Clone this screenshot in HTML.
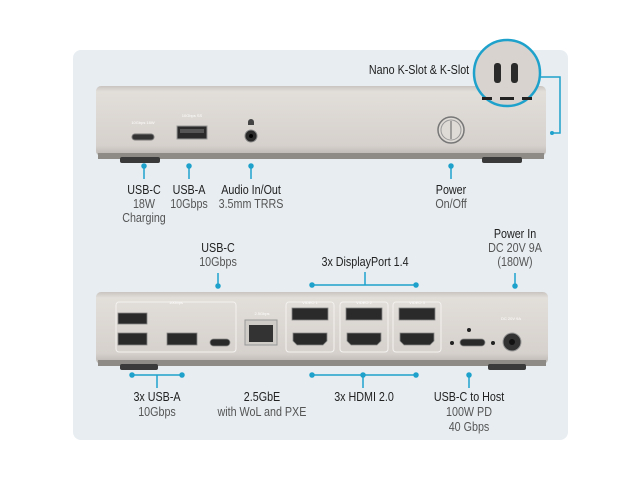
<!DOCTYPE html>
<html><head><meta charset="utf-8"><style>
html,body{margin:0;padding:0;background:#fff;}
svg{display:block;}
text{font-family:"Liberation Sans Narrow","Liberation Sans",sans-serif;}
.n text{transform-box:fill-box;transform-origin:center;transform:scaleX(0.86);}
</style></head><body>
<svg width="640" height="480" viewBox="0 0 640 480" xmlns="http://www.w3.org/2000/svg">
<defs>
<linearGradient id="dock" x1="0" y1="0" x2="0" y2="1">
<stop offset="0" stop-color="#c9c4bf"/><stop offset="0.08" stop-color="#e2ded9"/><stop offset="0.85" stop-color="#d6d1cc"/><stop offset="1" stop-color="#b9b4af"/>
</linearGradient>
</defs>
<rect x="73" y="50" width="495" height="390" rx="8" fill="#e7edf1"/>
<rect x="96" y="86" width="450" height="70" rx="5" fill="url(#dock)"/>
<rect x="98" y="153" width="446" height="6" fill="#8e8a86"/>
<rect x="120" y="157" width="40" height="6" rx="2" fill="#3a3a3a"/>
<rect x="482" y="157" width="40" height="6" rx="2" fill="#3a3a3a"/>
<text x="143" y="124" font-size="4" fill="#fff" text-anchor="middle">10Gbps 18W</text>
<rect x="132" y="134" width="22" height="6" rx="3" fill="#333" stroke="#777" stroke-width="1"/>
<text x="192" y="117" font-size="4" fill="#fff" text-anchor="middle">10Gbps SS</text>
<rect x="177" y="126" width="30" height="13" fill="#2b2b2b" stroke="#999" stroke-width="1"/>
<rect x="180" y="129" width="24" height="4" fill="#555"/>
<circle cx="251" cy="136" r="6" fill="#2a2a2a" stroke="#888"/>
<circle cx="251" cy="136" r="2" fill="#000"/>
<path d="M248 122 a3 3 0 0 1 6 0 v3 h-6z" fill="#444"/>
<circle cx="451" cy="130" r="13" fill="#dedad6" stroke="#777" stroke-width="1.5"/>
<circle cx="451" cy="130" r="10" fill="none" stroke="#999"/>
<line x1="451" y1="121" x2="451" y2="139" stroke="#777" stroke-width="1.2"/>
<circle cx="507" cy="73" r="33" fill="#d8d3ce" stroke="#1ea2cc" stroke-width="2.5"/>
<rect x="494" y="63" width="7" height="20" rx="3" fill="#2a2a2a"/>
<rect x="511" y="63" width="7" height="20" rx="3" fill="#2a2a2a"/>
<rect x="500" y="97" width="14" height="3" fill="#222"/>
<rect x="482" y="97" width="10" height="3" fill="#222"/>
<rect x="522" y="97" width="10" height="3" fill="#222"/>
<polyline points="540,77 560,77 560,133 552,133" fill="none" stroke="#1ea2cc" stroke-width="1.5"/>
<circle cx="552" cy="133" r="2" fill="#1ea2cc"/>
<g class="n"><text x="419" y="74" font-size="12.5" fill="#222" text-anchor="middle">Nano K-Slot &amp; K-Slot</text></g>
<g stroke="#1ea2cc" stroke-width="1.5" fill="#1ea2cc">
<line x1="144" y1="166" x2="144" y2="179"/><circle cx="144" cy="166" r="2"/>
<line x1="189" y1="166" x2="189" y2="179"/><circle cx="189" cy="166" r="2"/>
<line x1="251" y1="166" x2="251" y2="179"/><circle cx="251" cy="166" r="2"/>
<line x1="451" y1="166" x2="451" y2="179"/><circle cx="451" cy="166" r="2"/>
</g>
<g class="n" font-size="12.5" text-anchor="middle">
<text x="144" y="194" fill="#222">USB-C</text>
<text x="144" y="208" fill="#555">18W</text>
<text x="144" y="222" fill="#555">Charging</text>
<text x="189" y="194" fill="#222">USB-A</text>
<text x="189" y="208" fill="#555">10Gbps</text>
<text x="251" y="194" fill="#222">Audio In/Out</text>
<text x="251" y="208" fill="#555">3.5mm TRRS</text>
<text x="451" y="194" fill="#222">Power</text>
<text x="451" y="208" fill="#555">On/Off</text>
<text x="515" y="238" fill="#222">Power In</text>
<text x="515" y="252" fill="#555">DC 20V 9A</text>
<text x="515" y="266" fill="#555">(180W)</text>
<text x="218" y="252" fill="#222">USB-C</text>
<text x="218" y="266" fill="#555">10Gbps</text>
<text x="365" y="266" fill="#222">3x DisplayPort 1.4</text>
</g>
<g stroke="#1ea2cc" stroke-width="1.5" fill="#1ea2cc">
<line x1="218" y1="273" x2="218" y2="286"/><circle cx="218" cy="286" r="2"/>
<line x1="515" y1="273" x2="515" y2="286"/><circle cx="515" cy="286" r="2"/>
<line x1="312" y1="285" x2="416" y2="285"/><line x1="365" y1="272" x2="365" y2="285"/>
<circle cx="312" cy="285" r="2"/><circle cx="416" cy="285" r="2"/>
</g>
<rect x="96" y="292" width="452" height="72" rx="5" fill="url(#dock)"/>
<rect x="98" y="360" width="448" height="6" fill="#8e8a86"/>
<rect x="120" y="364" width="38" height="6" rx="2" fill="#3a3a3a"/>
<rect x="488" y="364" width="38" height="6" rx="2" fill="#3a3a3a"/>
<g fill="none" stroke="#f4f2f0" stroke-width="1">
<rect x="116" y="302" width="120" height="50" rx="3"/>
<rect x="286" y="302" width="48" height="50" rx="3"/>
<rect x="340" y="302" width="48" height="50" rx="3"/>
<rect x="393" y="302" width="48" height="50" rx="3"/>
</g>
<g fill="#2a2a2a" stroke="#888" stroke-width="0.8">
<rect x="118" y="313" width="29" height="11"/>
<rect x="118" y="333" width="29" height="12"/>
<rect x="167" y="333" width="30" height="12"/>
<rect x="210" y="339" width="20" height="7" rx="3.5"/>
<rect x="292" y="308" width="36" height="12"/>
<rect x="346" y="308" width="36" height="12"/>
<rect x="399" y="308" width="36" height="12"/>
<path d="M293 333 h34 v8 l-4 4 h-26 l-4 -4z"/>
<path d="M347 333 h34 v8 l-4 4 h-26 l-4 -4z"/>
<path d="M400 333 h34 v8 l-4 4 h-26 l-4 -4z"/>
<rect x="460" y="339" width="25" height="7" rx="3.5"/>
</g>
<rect x="245" y="320" width="32" height="25" fill="#cfccc8" stroke="#999"/>
<rect x="249" y="325" width="24" height="17" fill="#333"/>
<circle cx="512" cy="342" r="9" fill="#333" stroke="#999"/>
<circle cx="512" cy="342" r="3" fill="#111"/>
<circle cx="452" cy="343" r="2" fill="#222"/><circle cx="493" cy="343" r="2" fill="#222"/>
<circle cx="469" cy="330" r="2" fill="#222"/>
<g font-size="4" fill="#fff" text-anchor="middle">
<text x="176" y="304">10Gbps</text><text x="262" y="315">2.5Gbps</text>
<text x="310" y="304">VIDEO 1</text><text x="364" y="304">VIDEO 2</text><text x="417" y="304">VIDEO 3</text>
<text x="511" y="320">DC 20V 9A</text>
</g>
<g stroke="#1ea2cc" stroke-width="1.5" fill="#1ea2cc">
<line x1="132" y1="375" x2="182" y2="375"/><line x1="157" y1="375" x2="157" y2="388"/>
<circle cx="132" cy="375" r="2"/><circle cx="182" cy="375" r="2"/>
<line x1="312" y1="375" x2="416" y2="375"/><line x1="363" y1="375" x2="363" y2="388"/>
<circle cx="312" cy="375" r="2"/><circle cx="416" cy="375" r="2"/><circle cx="363" cy="375" r="2"/>
<line x1="469" y1="375" x2="469" y2="388"/><circle cx="469" cy="375" r="2"/>
</g>
<g class="n" font-size="12.5" text-anchor="middle">
<text x="157" y="401" fill="#222">3x USB-A</text>
<text x="157" y="416" fill="#555">10Gbps</text>
<text x="262" y="401" fill="#222">2.5GbE</text>
<text x="262" y="416" fill="#555">with WoL and PXE</text>
<text x="364" y="401" fill="#222">3x HDMI 2.0</text>
<text x="469" y="401" fill="#222">USB-C to Host</text>
<text x="469" y="416" fill="#555">100W PD</text>
<text x="469" y="431" fill="#555">40 Gbps</text>
</g>
</svg>
</body></html>
